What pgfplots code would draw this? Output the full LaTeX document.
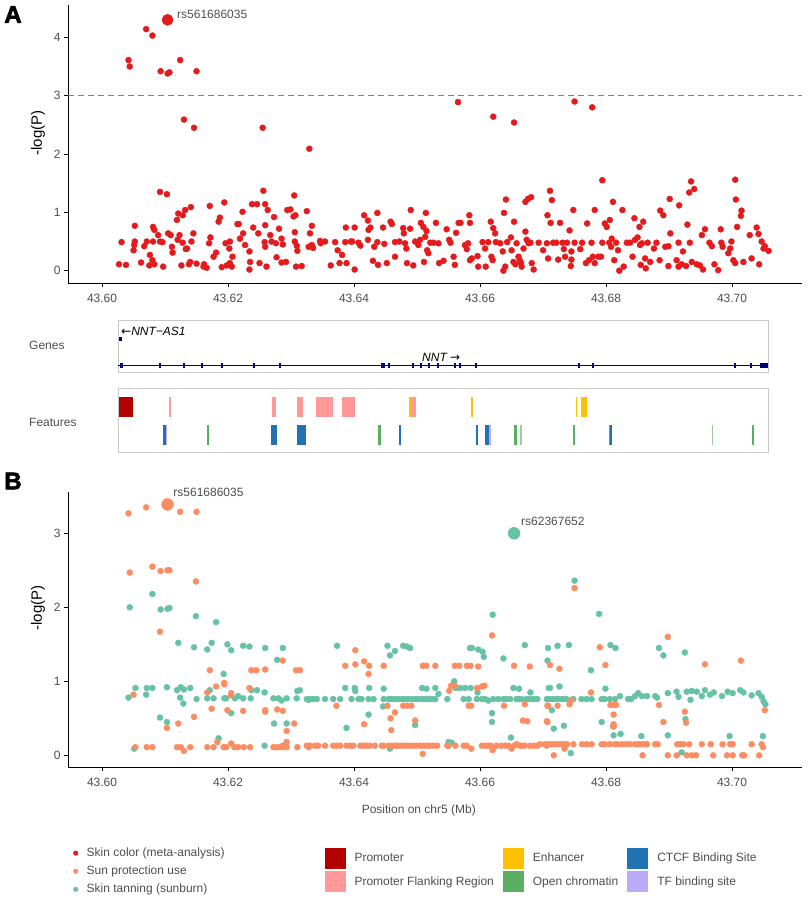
\documentclass[border=0pt]{standalone}
\usepackage{fontspec}
\setmainfont{Liberation Sans}
\newfontfamily\symfont{DejaVu Sans}
\newfontfamily\heavyfont{Liberation Sans Bold}[FakeBold=2.5]
\usepackage{pgfplots}
\pgfplotsset{compat=1.18}

\definecolor{skinred}{HTML}{E41A1C}
\definecolor{sunorange}{HTML}{FC8D62}
\definecolor{tangreen}{HTML}{66C2A5}
\definecolor{tickgrey}{HTML}{4D4D4D}
\definecolor{boxgrey}{HTML}{C8C8C8}
\definecolor{genenavy}{HTML}{000080}
\definecolor{promoter}{HTML}{B20000}
\definecolor{flank}{HTML}{FF9999}
\definecolor{enhancer}{HTML}{FFC000}
\definecolor{ctcf}{HTML}{2171B5}
\definecolor{openchrom}{HTML}{5AAE61}
\definecolor{tfbs}{HTML}{BBAAF8}

\newcommand{\twelve}{\fontsize{12}{14}\selectfont}

\pgfplotsset{
  manhattan/.style={
    scale only axis, width=734pt, anchor=south west,
    xmin=43.5946, xmax=43.7111,
    axis x line*=bottom, axis y line*=left,
    axis line style={black, line width=0.9pt},
    tick align=outside, major tick length=4pt,
    tick style={black, line width=0.8pt},
    xtick={43.60,43.62,43.64,43.66,43.68,43.70},
    /pgf/number format/assume math mode=true,
    xticklabel style={/pgf/number format/fixed, /pgf/number format/fixed zerofill, /pgf/number format/precision=2, yshift=-3.5pt},
    tick label style={font=\twelve, text=tickgrey},
    clip=false,
  },
  dots/.style={only marks, mark=*, mark size=3pt, color=#1},
  track/.style={scale only axis, anchor=south west, width=650pt,
    xmin=43.6026, xmax=43.70578, ymin=0, ymax=1,
    xtick=\empty, ytick=\empty, axis line style={boxgrey, line width=1pt}, clip=false},
  block/.style={#1, line width=20pt, unbounded coords=jump},
}

\begin{document}
\begin{tikzpicture}
\useasboundingbox (0pt,0pt) rectangle (807pt,-900pt);

% ---------------- panel A ----------------
\begin{axis}[manhattan, at={(68pt,-283pt)}, height=278pt,
  ymin=-0.211, ymax=4.554, ytick={0,1,2,3,4}]
\addplot[tickgrey!70, line width=0.9pt, dash pattern=on 6pt off 4pt] coordinates {(43.5946,3) (43.7111,3)};
\addplot[dots=skinred] coordinates {
(43.6070,4.14)(43.6080,4.03)(43.6042,3.61)(43.6044,3.50)(43.6093,3.42)(43.6104,3.38)(43.6107,3.40)(43.6124,3.61)(43.6150,3.42)
(43.6130,2.59)(43.6146,2.45)(43.6255,2.45)(43.6329,2.09)(43.6092,1.35)(43.6103,1.31)
(43.6565,2.89)(43.6621,2.64)(43.6654,2.54)(43.6750,2.90)(43.6778,2.80)
(43.6794,1.55)(43.7005,1.56)(43.6935,1.53)(43.6940,1.40)(43.6932,1.34)(43.6711,1.37)(43.6714,1.21)(43.6641,1.22)
(43.6672,1.18)(43.6676,1.23)(43.6681,1.26)(43.7006,1.22)(43.6916,1.12)(43.6901,1.23)(43.6811,1.18)
(43.6027,0.11)(43.6038,0.10)(43.6031,0.49)(43.6052,0.77)(43.6051,0.44)(43.6052,0.50)(43.6050,0.35)
(43.6067,0.42)(43.6071,0.50)(43.6081,0.50)(43.6081,0.75)(43.6083,0.70)(43.6076,0.27)(43.6080,0.18)(43.6083,0.11)(43.6075,0.09)(43.6062,0.14)
(43.6097,0.07)(43.6089,0.61)(43.6092,0.50)(43.6096,0.49)(43.6105,0.64)(43.6109,0.61)(43.6111,0.41)(43.6112,0.31)
(43.6119,0.87)(43.6121,0.98)(43.6128,0.95)(43.6132,1.04)(43.6141,1.09)(43.6120,0.53)(43.6123,0.61)(43.6128,0.48)(43.6126,0.09)
(43.6133,0.37)(43.6135,0.38)(43.6138,0.11)(43.6140,0.15)(43.6145,0.64)(43.6142,0.50)(43.6150,0.12)
(43.6161,0.07)(43.6162,0.11)(43.6166,0.05)(43.6170,0.47)(43.6172,0.57)(43.6171,1.11)(43.6177,0.24)(43.6181,0.31)
(43.6185,0.84)(43.6187,0.91)(43.6194,1.17)(43.6190,0.06)(43.6198,0.09)(43.6203,0.13)(43.6196,0.47)(43.6202,0.38)(43.6203,0.50)(43.6207,0.24)(43.6206,0.07)
(43.6215,0.80)(43.6217,0.80)(43.6219,0.55)(43.6223,1.01)(43.6227,0.44)(43.6224,0.64)(43.6234,0.33)(43.6234,0.02)(43.6235,0.15)
(43.6238,1.14)(43.6246,1.14)(43.6240,0.74)(43.6248,0.64)(43.6250,0.13)
(43.6256,1.37)(43.6259,1.14)(43.6259,0.78)(43.6258,0.49)(43.6259,0.41)(43.6263,1.04)(43.6261,0.07)
(43.6273,0.92)(43.6277,0.23)(43.6267,0.61)(43.6269,0.50)(43.6276,0.47)(43.6281,0.72)(43.6285,0.55)(43.6287,0.45)(43.6285,0.14)(43.6292,0.15)
(43.6294,1.04)(43.6305,1.29)(43.6299,1.05)(43.6304,0.93)(43.6307,0.95)(43.6306,0.66)(43.6306,0.50)(43.6309,0.43)(43.6310,0.34)(43.6308,0.07)(43.6317,0.08)
(43.6325,1.02)(43.6330,0.64)(43.6333,0.77)(43.6333,0.44)(43.6328,0.41)(43.6346,0.51)(43.6354,0.50)(43.6347,0.47)(43.6335,0.39)
(43.6363,0.09)(43.6370,0.49)(43.6374,0.35)(43.6377,0.13)(43.6381,0.27)(43.6387,0.74)(43.6386,0.49)(43.6388,0.13)
(43.6395,0.50)(43.6401,0.74)(43.6401,0.02)(43.6397,0.50)(43.6407,0.48)(43.6410,0.43)(43.6416,0.95)(43.6422,0.86)(43.6423,0.70)(43.6426,0.74)(43.6422,0.53)(43.6430,0.17)
(43.6437,0.99)(43.6437,0.49)(43.6432,0.41)(43.6438,0.10)(43.6446,0.74)(43.6448,0.46)(43.6452,0.13)(43.6458,0.84)(43.6460,0.80)(43.6465,0.49)(43.6472,0.50)(43.6465,0.24)
(43.6478,0.73)(43.6479,0.64)(43.6481,0.47)(43.6483,0.38)(43.6484,0.13)(43.6489,0.72)(43.6490,1.04)(43.6494,0.09)(43.6497,0.50)
(43.6502,0.44)(43.6505,0.53)(43.6506,0.82)(43.6510,0.75)(43.6513,0.58)(43.6514,0.99)(43.6515,0.68)(43.6518,0.30)(43.6516,0.35)(43.6511,0.15)
(43.6521,0.48)(43.6526,0.48)(43.6530,0.82)(43.6534,0.47)(43.6535,0.13)(43.6542,0.17)(43.6547,0.71)(43.6551,0.53)(43.6553,0.48)(43.6558,0.24)
(43.6560,0.10)(43.6562,0.65)(43.6566,0.82)(43.6569,0.82)(43.6576,0.44)(43.6579,0.37)(43.6583,0.95)(43.6584,0.82)(43.6581,0.47)(43.6587,0.21)(43.6584,0.18)
(43.6597,0.07)(43.6596,0.25)(43.6604,0.49)(43.6608,0.38)(43.6609,0.07)(43.6613,0.49)(43.6617,0.84)(43.6621,0.73)(43.6624,0.64)(43.6618,0.24)(43.6620,0.18)
(43.6625,0.49)(43.6632,0.47)(43.6636,0.33)(43.6638,0.99)(43.6640,0.07)(43.6637,0.00)(43.6643,0.49)(43.6649,0.57)(43.6650,0.35)(43.6654,0.84)
(43.6653,0.15)(43.6656,0.11)(43.6658,0.47)(43.6661,0.24)(43.6663,0.18)(43.6665,0.13)(43.6666,0.07)(43.6669,0.38)(43.6672,0.67)(43.6674,0.53)
(43.6677,0.47)(43.6680,0.48)(43.6685,0.02)(43.6682,0.13)(43.6693,0.48)(43.6700,0.35)(43.6706,0.47)(43.6707,0.95)(43.6708,0.21)(43.6712,0.82)
(43.6716,0.48)(43.6721,0.48)(43.6724,0.19)(43.6727,0.82)(43.6731,0.48)(43.6733,0.37)(43.6735,0.24)(43.6738,0.48)(43.6742,0.69)(43.6745,0.33)
(43.6745,0.19)(43.6744,0.08)(43.6748,1.04)(43.6750,0.48)(43.6759,0.37)(43.6762,0.48)(43.6768,0.13)(43.6770,0.81)(43.6773,0.18)(43.6777,0.48)
(43.6779,0.24)(43.6782,0.13)(43.6782,1.04)(43.6788,0.24)(43.6792,0.24)(43.6794,0.48)(43.6798,0.81)(43.6801,0.75)(43.6805,0.48)(43.6806,0.87)
(43.6808,0.41)(43.6809,0.55)(43.6813,0.18)(43.6816,0.48)(43.6819,0.35)(43.6821,0.00)(43.6826,1.04)(43.6828,0.07)(43.6833,0.48)(43.6838,0.48)
(43.6842,0.24)(43.6845,0.90)(43.6846,0.53)(43.6850,0.57)(43.6854,0.44)(43.6853,0.75)(43.6855,0.10)(43.6857,0.47)(43.6859,0.84)(43.6862,0.21)
(43.6863,0.04)(43.6866,0.48)(43.6870,0.15)(43.6876,0.38)(43.6880,0.48)(43.6886,1.03)(43.6885,0.18)(43.6891,0.95)(43.6894,0.41)(43.6899,0.42)
(43.6902,0.64)(43.6899,0.08)(43.6912,0.18)(43.6915,0.07)(43.6915,0.48)(43.6920,0.11)(43.6922,0.33)(43.6927,0.08)(43.6929,0.79)(43.6933,0.48)
(43.6936,0.15)(43.6944,0.11)(43.6949,0.09)(43.6952,0.61)(43.6954,0.02)(43.6957,0.71)(43.6964,0.48)(43.6968,0.42)(43.6972,0.11)(43.6978,0.01)
(43.6982,0.71)(43.6983,0.48)(43.6985,0.41)(43.6994,0.30)(43.6997,0.38)(43.6999,0.50)(43.7002,0.18)(43.7005,0.13)(43.7008,0.75)(43.7014,0.94)
(43.7015,1.03)(43.7018,0.15)(43.7028,0.61)(43.7031,0.21)(43.7039,0.74)(43.7042,0.63)(43.7043,0.11)(43.7047,0.50)(43.7050,0.38)(43.7052,0.42)(43.7058,0.34)
};
\addplot[only marks, mark=*, mark size=5.6pt, color=skinred] coordinates {(43.6104,4.30)};
\node[anchor=west, inner sep=0pt, font=\twelve, text=tickgrey] at (axis cs:43.6119,4.40) {rs561686035};
\end{axis}

\node[font=\fontsize{24}{24}\selectfont\heavyfont\bfseries] at (13pt,-14.5pt) {A};
\node[rotate=90, font=\fontsize{15}{17}\selectfont] at (38pt,-133pt) {-log(P)};

% ---------------- gene track ----------------
\node[anchor=west, font=\twelve, text=tickgrey] at (25.7pt,-345pt) {Genes};
\begin{axis}[track, at={(118.4pt,-372.3pt)}, height=51.6pt]
\addplot[genenavy, line width=1pt] coordinates {(43.6026,0.128) (43.70578,0.128)};
\addplot[only marks, mark=|, mark size=2.5pt, mark options={genenavy, line width=1.8pt}] coordinates {
(43.60297,0.128)(43.60313,0.128)(43.60921,0.128)(43.61302,0.128)(43.61592,0.128)(43.61910,0.128)(43.62413,0.128)(43.62830,0.128)
(43.64440,0.128)(43.64471,0.128)(43.64551,0.128)(43.64932,0.128)(43.65063,0.128)(43.65195,0.128)(43.65329,0.128)
(43.65603,0.128)(43.65683,0.128)(43.65937,0.128)(43.67576,0.128)(43.67794,0.128)(43.70043,0.128)(43.70297,0.128)};
\addplot[genenavy, line width=5pt] coordinates {(43.70444,0.128) (43.70576,0.128)};
\addplot[genenavy, line width=4pt] coordinates {(43.60275,0.640) (43.60320,0.640)};
\node[anchor=west, inner sep=0pt, font=\twelve\itshape] at (axis cs:43.60302,0.80) {{\symfont\upshape ←}NNT−AS1};
\node[anchor=west, inner sep=0pt, font=\twelve\itshape] at (axis cs:43.65079,0.29) {NNT {\symfont\upshape →}};
\end{axis}

% ---------------- regulatory features ----------------
\node[anchor=west, font=\twelve, text=tickgrey] at (25.7pt,-422pt) {Features};
\begin{axis}[track, at={(118.4pt,-452.7pt)}, height=64.4pt]
\addplot[block=promoter] coordinates {(43.60275,0.714) (43.60487,0.714)};
\addplot[block=flank] coordinates {(43.61063,0.714)(43.61090,0.714)(nan,nan)(43.62703,0.714)(43.62767,0.714)(nan,nan)
 (43.63100,0.714)(43.63190,0.714)(nan,nan)(43.63397,0.714)(43.63662,0.714)(nan,nan)(43.63814,0.714)(43.64011,0.714)(nan,nan)
 (43.64905,0.714)(43.64979,0.714)};
\addplot[block=enhancer] coordinates {(43.64878,0.714)(43.64900,0.714)(nan,nan)(43.65857,0.714)(43.65894,0.714)(nan,nan)
 (43.67524,0.714)(43.67544,0.714)(nan,nan)(43.67598,0.714)(43.67698,0.714)};
\addplot[block=ctcf] coordinates {(43.60963,0.275)(43.61008,0.275)(nan,nan)(43.62687,0.275)(43.62773,0.275)(nan,nan)
 (43.63090,0.275)(43.63233,0.275)(nan,nan)(43.64714,0.275)(43.64746,0.275)(nan,nan)(43.65937,0.275)(43.65963,0.275)(nan,nan)
 (43.66075,0.275)(43.66148,0.275)(nan,nan)(43.68071,0.275)(43.68095,0.275)};
\addplot[block=tfbs] coordinates {(43.61008,0.275)(43.61027,0.275)(nan,nan)(43.66148,0.275)(43.66179,0.275)};
\addplot[block=openchrom] coordinates {(43.61667,0.275)(43.61698,0.275)(nan,nan)(43.64386,0.275)(43.64429,0.275)(nan,nan)
 (43.66540,0.275)(43.66592,0.275)(nan,nan)(43.67481,0.275)(43.67508,0.275)(nan,nan)(43.68048,0.275)(43.68071,0.275)(nan,nan)
 (43.70313,0.275)(43.70354,0.275)};
\addplot[block={openchrom!60}] coordinates {(43.66635,0.275)(43.66662,0.275)(nan,nan)(43.69687,0.275)(43.69703,0.275)};
\end{axis}

% ---------------- panel B ----------------
\begin{axis}[manhattan, at={(68pt,-767.3pt)}, height=275.6pt,
  ymin=-0.162, ymax=3.562, ytick={0,1,2,3}]
\addplot[dots=tangreen] coordinates {
(43.6044,2.00)(43.6080,2.18)(43.6093,1.97)(43.6104,1.98)(43.6107,1.99)(43.6149,1.88)(43.6181,1.80)(43.6121,1.52)(43.6146,1.46)
(43.6167,1.43)(43.6174,1.52)(43.6199,1.50)(43.6205,1.42)(43.6224,1.48)(43.6234,1.47)(43.6259,1.45)(43.6287,1.45)(43.6278,1.29)(43.6193,1.10)
(43.6042,0.78)(43.6053,0.91)(43.6070,0.82)(43.6071,0.91)(43.6080,0.91)(43.6103,0.92)(43.6119,0.88)(43.6125,0.92)(43.6130,0.89)(43.6140,0.91)
(43.6124,0.78)(43.6129,0.70)(43.6150,0.76)(43.6167,0.77)(43.6177,0.77)(43.6171,0.88)(43.6194,0.77)(43.6197,0.77)(43.6211,0.77)(43.6216,0.80)
(43.6224,0.77)(43.6236,0.77)(43.6237,0.88)(43.6246,0.88)(43.6258,0.85)(43.6272,0.77)(43.6280,0.77)(43.6285,0.74)(43.6293,0.77)(43.6309,0.77)
(43.6310,0.87)(43.6314,0.88)(43.6328,0.75)(43.6092,0.51)(43.6103,0.45)(43.6205,0.57)(43.6273,0.43)(43.6293,0.43)(43.6185,0.23)(43.6051,0.09)
(43.6258,0.13)(43.6287,0.13)
(43.6373,1.48)(43.6453,1.48)(43.6457,1.35)(43.6465,1.41)(43.6478,1.48)(43.6484,1.47)(43.6489,1.45)(43.6584,1.45)(43.6587,1.45)(43.6597,1.43)
(43.6604,1.40)(43.6606,1.33)(43.6620,1.90)(43.6637,1.31)(43.6671,1.49)(43.6708,1.45)(43.6707,1.28)
(43.6386,0.91)(43.6401,0.91)(43.6402,0.87)(43.6424,0.91)(43.6447,0.90)(43.6508,0.91)(43.6515,0.90)(43.6529,0.91)(43.6534,0.83)(43.6559,1.00)
(43.6561,0.91)(43.6568,0.91)(43.6576,0.91)(43.6585,0.91)(43.6596,0.85)(43.6653,0.91)(43.6662,0.90)(43.6680,0.85)(43.6709,0.91)
(43.6325,0.76)(43.6330,0.76)(43.6335,0.76)(43.6341,0.76)(43.6354,0.76)(43.6367,0.76)(43.6378,0.76)(43.6396,0.76)(43.6407,0.76)(43.6412,0.76)
(43.6423,0.76)(43.6431,0.76)(43.6447,0.76)(43.6455,0.76)(43.6460,0.76)(43.6465,0.76)(43.6470,0.76)(43.6476,0.76)(43.6481,0.76)(43.6486,0.76)
(43.6492,0.76)(43.6497,0.76)(43.6502,0.76)(43.6508,0.76)(43.6513,0.76)(43.6518,0.76)(43.6523,0.76)(43.6529,0.76)(43.6548,0.76)(43.6574,0.76)
(43.6582,0.76)(43.6595,0.76)(43.6603,0.76)(43.6608,0.76)(43.6613,0.74)(43.6621,0.76)(43.6629,0.76)(43.6637,0.76)(43.6642,0.76)(43.6648,0.76)
(43.6658,0.76)(43.6663,0.76)(43.6666,0.76)(43.6674,0.76)(43.6679,0.76)(43.6685,0.76)(43.6691,0.76)(43.6706,0.76)
(43.6423,0.55)(43.6388,0.37)(43.6446,0.66)(43.6497,0.41)(43.6619,0.57)(43.6619,0.45)(43.6457,0.09)(43.6550,0.18)(43.6555,0.17)(43.6649,0.24)
(43.6750,2.36)(43.6789,1.91)(43.6807,1.49)(43.6815,1.45)(43.6723,1.48)(43.6741,1.49)(43.6776,1.15)(43.6884,1.45)(43.6891,1.35)(43.6925,1.39)
(43.6711,0.91)(43.6726,0.93)(43.6799,0.90)
(43.6711,0.76)(43.6716,0.76)(43.6722,0.76)(43.6727,0.76)(43.6732,0.76)(43.6737,0.76)(43.6748,0.76)(43.6761,0.76)(43.6769,0.76)(43.6777,0.76)
(43.6793,0.76)(43.6798,0.76)(43.6806,0.76)(43.6814,0.76)(43.6835,0.76)(43.6840,0.76)(43.6846,0.80)(43.6851,0.84)(43.6857,0.80)(43.6865,0.80)
(43.6878,0.80)(43.6881,0.78)(43.6822,0.80)(43.6898,0.84)(43.6912,0.86)(43.6915,0.79)(43.6928,0.86)(43.6934,0.75)(43.6936,0.87)(43.6944,0.86)
(43.6952,0.80)(43.6957,0.88)(43.6965,0.82)(43.6971,0.85)(43.6984,0.80)(43.6993,0.86)(43.7001,0.84)(43.7013,0.88)(43.7018,0.85)(43.7031,0.81)
(43.7042,0.84)(43.7047,0.79)(43.7050,0.73)(43.7053,0.69)
(43.6714,0.61)(43.6717,0.36)(43.6733,0.40)(43.6793,0.45)(43.6811,0.39)(43.6812,0.27)(43.6823,0.29)(43.6926,0.49)(43.6898,0.27)(43.6856,0.26)
(43.6996,0.26)(43.7049,0.26)(43.6744,0.03)(43.6920,0.04)
};
\addplot[dots=sunorange] coordinates {
(43.6042,3.27)(43.6070,3.35)(43.6124,3.29)(43.6150,3.29)
(43.6044,2.47)(43.6080,2.55)(43.6093,2.49)(43.6104,2.50)(43.6107,2.50)(43.6149,2.35)(43.6092,1.67)(43.6050,0.82)(43.6103,0.37)(43.6121,0.43)
(43.6146,0.52)(43.6171,1.15)(43.6167,0.85)(43.6174,0.63)(43.6181,0.93)(43.6194,0.98)(43.6194,0.96)(43.6199,0.61)(43.6205,0.84)(43.6205,0.81)
(43.6224,0.60)(43.6234,0.91)(43.6237,1.15)(43.6245,1.15)(43.6259,1.16)(43.6259,0.61)(43.6259,0.59)(43.6278,0.62)(43.6287,0.60)(43.6287,1.28)
(43.6305,0.43)(43.6293,0.33)(43.6293,0.18)(43.6308,1.15)(43.6314,1.15)
(43.6053,0.11)(43.6071,0.11)(43.6080,0.11)(43.6119,0.11)(43.6125,0.11)(43.6130,0.06)(43.6140,0.11)(43.6167,0.11)(43.6177,0.11)(43.6183,0.18)
(43.6193,0.11)(43.6197,0.11)(43.6205,0.16)(43.6210,0.11)(43.6216,0.11)(43.6225,0.11)(43.6235,0.11)(43.6272,0.11)(43.6278,0.11)(43.6283,0.11)
(43.6287,0.11)(43.6293,0.11)(43.6310,0.11)(43.6328,0.11)
(43.6386,1.21)(43.6402,1.42)(43.6402,1.23)(43.6416,1.27)(43.6424,1.21)(43.6423,1.10)(43.6447,1.21)(43.6372,0.67)(43.6416,0.42)(43.6453,0.67)
(43.6465,0.58)(43.6458,0.50)(43.6459,0.34)(43.6478,0.67)(43.6484,0.67)(43.6491,0.67)(43.6497,0.47)(43.6509,1.21)(43.6515,1.21)(43.6529,1.21)
(43.6551,0.87)(43.6554,0.94)(43.6560,0.94)(43.6560,1.21)(43.6567,1.21)(43.6579,1.21)(43.6585,1.21)(43.6597,1.20)(43.6582,0.67)(43.6586,0.67)
(43.6595,0.91)(43.6603,0.93)(43.6607,0.94)(43.6619,1.62)(43.6638,0.67)(43.6654,1.21)(43.6671,0.69)(43.6668,0.47)(43.6675,0.46)(43.6679,1.20)
(43.6707,0.67)(43.6706,0.46)(43.6509,0.02)
(43.6325,0.13)(43.6330,0.13)(43.6338,0.13)(43.6343,0.13)(43.6354,0.13)(43.6367,0.13)(43.6372,0.13)(43.6378,0.13)(43.6388,0.13)(43.6394,0.13)
(43.6399,0.13)(43.6410,0.13)(43.6415,0.13)(43.6420,0.13)(43.6425,0.13)(43.6433,0.13)(43.6444,0.13)(43.6447,0.13)(43.6455,0.13)(43.6460,0.13)
(43.6465,0.13)(43.6468,0.13)(43.6473,0.13)(43.6478,0.13)(43.6484,0.13)(43.6489,0.13)(43.6494,0.13)(43.6499,0.13)(43.6505,0.13)(43.6510,0.13)
(43.6515,0.13)(43.6520,0.13)(43.6526,0.13)(43.6532,0.13)(43.6548,0.13)(43.6550,0.13)(43.6561,0.13)(43.6574,0.13)(43.6579,0.13)(43.6586,0.09)
(43.6603,0.13)(43.6608,0.13)(43.6613,0.13)(43.6617,0.13)(43.6620,0.07)(43.6626,0.13)(43.6634,0.13)(43.6640,0.13)(43.6645,0.13)(43.6650,0.09)
(43.6654,0.13)(43.6658,0.15)(43.6663,0.13)(43.6666,0.13)(43.6671,0.13)(43.6679,0.13)(43.6685,0.13)(43.6691,0.13)(43.6706,0.13)
(43.6750,2.26)(43.6790,1.46)(43.6799,1.22)(43.6898,1.60)(43.6957,1.23)(43.7014,1.28)(43.6711,1.22)(43.6726,1.17)(43.6776,0.85)(43.6708,0.67)
(43.6723,0.67)(43.6742,0.69)(43.6745,0.75)(43.6707,0.45)(43.6807,0.68)(43.6813,0.68)(43.6816,0.68)(43.6812,0.55)(43.6812,0.42)(43.6812,0.39)
(43.6884,0.68)(43.6891,0.45)(43.6925,0.59)(43.6927,0.44)(43.7052,0.61)
(43.6695,0.15)(43.6703,0.15)(43.6708,0.15)(43.6714,0.15)(43.6719,0.15)(43.6724,0.15)(43.6730,0.15)(43.6735,0.15)(43.6738,0.15)(43.6748,0.15)
(43.6762,0.15)(43.6769,0.15)(43.6777,0.15)(43.6793,0.15)(43.6798,0.15)(43.6806,0.15)(43.6814,0.15)(43.6818,0.15)(43.6825,0.15)(43.6832,0.15)
(43.6838,0.15)(43.6846,0.15)(43.6851,0.15)(43.6857,0.15)(43.6862,0.15)(43.6865,0.15)(43.6878,0.15)(43.6882,0.15)(43.6913,0.15)(43.6918,0.15)
(43.6923,0.15)(43.6932,0.15)(43.6952,0.15)(43.6966,0.15)(43.6985,0.15)(43.6997,0.15)(43.7001,0.15)(43.7031,0.15)(43.7047,0.15)(43.7049,0.11)
(43.6717,0.00)(43.6858,0.00)(43.6898,0.00)(43.6912,0.00)(43.6928,0.00)(43.6936,0.00)(43.6943,0.00)(43.6970,0.00)(43.6992,0.00)(43.7001,0.00)
(43.7016,0.00)(43.7019,0.00)(43.7043,0.00)(43.6734,0.09)
};
\addplot[only marks, mark=*, mark size=6pt, color=sunorange] coordinates {(43.6104,3.39)};
\addplot[only marks, mark=*, mark size=6pt, color=tangreen] coordinates {(43.6654,3.00)};
\node[anchor=west, inner sep=0pt, font=\twelve, text=tickgrey] at (axis cs:43.6113,3.55) {rs561686035};
\node[anchor=west, inner sep=0pt, font=\twelve, text=tickgrey] at (axis cs:43.6665,3.16) {rs62367652};
\end{axis}

\node[font=\fontsize{24}{24}\selectfont\heavyfont\bfseries] at (13pt,-481pt) {B};
\node[rotate=90, font=\fontsize{15}{17}\selectfont] at (38pt,-608pt) {-log(P)};
\node[font=\twelve, text=tickgrey] at (418.8pt,-810.7pt) {Position on chr5 (Mb)};

% ---------------- legends ----------------
\begin{axis}[at={(73.2pt,-847.8pt)}, anchor=north west, scale only axis, width=1pt, height=1pt,
  hide axis, xmin=0, xmax=1, ymin=0, ymax=1,
  legend cell align=left,
  legend style={at={(0,1)}, anchor=north west, draw=none, fill=none, inner sep=0pt,
    row sep=7.9pt, column sep=8.7pt, font=\twelve, text=tickgrey, nodes={inner sep=0pt}}]
\addlegendimage{only marks, mark=*, mark size=2.3pt, color=skinred}
\addlegendentry{Skin color (meta-analysis)}
\addlegendimage{only marks, mark=*, mark size=2.3pt, color=sunorange}
\addlegendentry{Sun protection use}
\addlegendimage{only marks, mark=*, mark size=2.3pt, color=tangreen}
\addlegendentry{Skin tanning (sunburn)}
\end{axis}

\begin{axis}[at={(324.3pt,-847.3pt)}, anchor=north west, scale only axis, width=1pt, height=1pt,
  hide axis, xmin=0, xmax=1, ymin=0, ymax=1,
  legend cell align=left, legend columns=3,
  legend image code/.code={\fill[#1] (0pt,-10.5pt) rectangle (21pt,10.5pt);},
  legend style={at={(0,1)}, anchor=north west, draw=none, fill=none, inner sep=0pt,
    row sep=2.4pt, column sep=9pt, font=\twelve, text=tickgrey, nodes={inner sep=0pt}}]
\addlegendimage{fill=promoter, draw=none}\addlegendentry{Promoter}
\addlegendimage{fill=enhancer, draw=none}\addlegendentry{Enhancer}
\addlegendimage{fill=ctcf, draw=none}\addlegendentry{CTCF Binding Site}
\addlegendimage{fill=flank, draw=none}\addlegendentry{Promoter Flanking Region}
\addlegendimage{fill=openchrom, draw=none}\addlegendentry{Open chromatin}
\addlegendimage{fill=tfbs, draw=none}\addlegendentry{TF binding site}
\end{axis}
\end{tikzpicture}
\end{document}
